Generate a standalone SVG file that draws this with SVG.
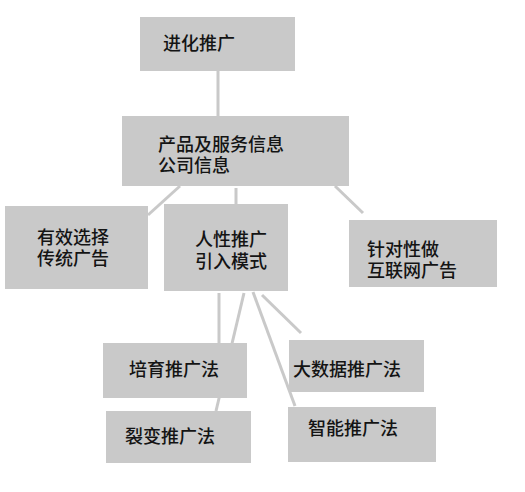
<svg xmlns="http://www.w3.org/2000/svg" width="525" height="492" viewBox="0 0 525 492">
<style>
.box{fill:#c9c9c9}
.t{font-family:"Noto Sans CJK SC","Liberation Sans",sans-serif;font-size:18px;fill:#141414;font-weight:500}
.c line{stroke:#c9c9c9;stroke-width:3}
</style>
<rect width="525" height="492" fill="#ffffff"/>
<g class="c" id="connectors">
<line x1="218" y1="71" x2="218" y2="116"/>
<line x1="180" y1="186" x2="148" y2="215"/>
<line x1="236" y1="188" x2="236" y2="204"/>
<line x1="335" y1="186" x2="363" y2="213"/>
<line x1="219" y1="293" x2="219" y2="343"/>
<line x1="244" y1="293" x2="216" y2="411"/>
<line x1="253" y1="292" x2="295" y2="406"/>
<line x1="262" y1="295" x2="301" y2="333"/>
</g>
<g id="n1"><rect class="box" x="140" y="17" width="155" height="54"/><text class="t" x="163" y="50">进化推广</text></g>
<g id="n2"><rect class="box" x="122" y="116" width="227" height="70"/><text class="t" x="158" y="151">产品及服务信息<tspan x="158" y="172">公司信息</tspan></text></g>
<g id="n3"><rect class="box" x="5" y="206" width="143" height="83"/><text class="t" x="37" y="244">有效选择<tspan x="37" y="265">传统广告</tspan></text></g>
<g id="n4"><rect class="box" x="164" y="204" width="124" height="87"/><text class="t" x="195" y="246">人性推广<tspan x="195" y="268">引入模式</tspan></text></g>
<g id="n5"><rect class="box" x="349" y="220" width="148" height="67"/><text class="t" x="367" y="256">针对性做<tspan x="367" y="277">互联网广告</tspan></text></g>
<g id="n6"><rect class="box" x="103" y="343" width="144" height="55"/><text class="t" x="129" y="376">培育推广法</text></g>
<g id="n7"><rect class="box" x="106" y="411" width="145" height="52"/><text class="t" x="125" y="443">裂变推广法</text></g>
<g id="n8"><rect class="box" x="289" y="340" width="135" height="52"/><text class="t" x="293" y="376">大数据推广法</text></g>
<g id="n9"><rect class="box" x="288" y="407" width="148" height="55"/><text class="t" x="308" y="435">智能推广法</text></g>
</svg>
